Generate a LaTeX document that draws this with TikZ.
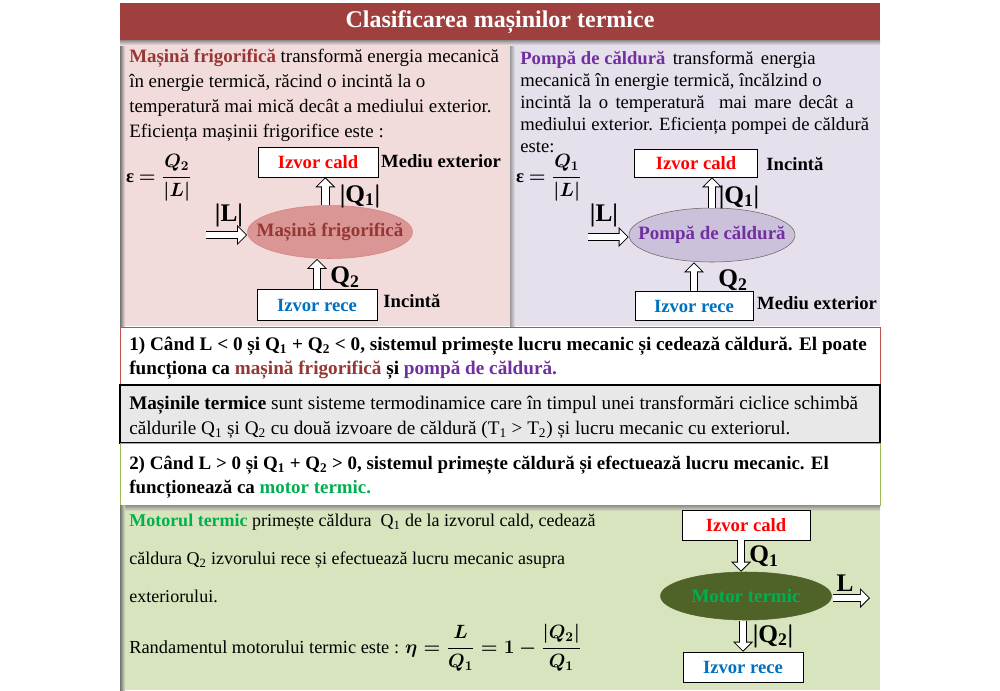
\documentclass[tikz,border=0pt]{standalone}
\usepackage{fontspec}
\setmainfont{Liberation Serif}
\usetikzlibrary{shapes,arrows.meta,positioning}

\definecolor{titlered}{HTML}{A0403E}
\definecolor{pinkbg}{HTML}{F2DCDB}
\definecolor{lavbg}{HTML}{E5E0EC}
\definecolor{greenbg}{HTML}{D7E4BD}
\definecolor{framered}{HTML}{C0504D}
\definecolor{framegreen}{HTML}{9BBB59}
\definecolor{ellpink}{HTML}{D99694}
\definecolor{elllav}{HTML}{CCC1DA}
\definecolor{ellolive}{HTML}{4F6228}
\definecolor{txtdarkred}{HTML}{953735}
\definecolor{txtpurple}{HTML}{7030A0}
\definecolor{txtgreen}{HTML}{00B050}
\definecolor{txtblue}{HTML}{0070C0}

\begin{document}
\begin{tikzpicture}[x=0.75pt, y=-0.75pt, font=\fontsize{13.5}{18}\selectfont]
    % Styles
    \tikzstyle{src_box} = [rectangle, draw, fill=white, inner sep=0pt, font=\fontsize{14}{16}\selectfont\bfseries]
    \tikzstyle{engine} = [ellipse, draw, inner sep=0pt]
    \tikzstyle{engine_text} = [inner sep=0pt, font=\fontsize{14.2}{16}\selectfont\bfseries]
    \tikzstyle{side_label} = [inner sep=0pt, font=\fontsize{14}{16}\selectfont\bfseries]
    \tikzstyle{q_label} = [inner sep=0pt, font=\fontsize{19}{22}\selectfont\bfseries]
    \tikzstyle{panel_text} = [anchor=north west, inner sep=0pt, align=left]
    \tikzstyle{heat_arrow} = [draw=white, line width=5pt, -{Triangle[length=5.7pt, width=11.4pt, line width=0pt]}, shorten >=1.06pt,
        preaction={draw=black, line width=6.5pt, -{Triangle[length=7.5pt, width=15pt, line width=0pt]}, shorten >=0pt}]

    \useasboundingbox (0,0) rectangle (1000,690);

    % Backgrounds
    \fill[pinkbg] (120,40) rectangle (511,326);
    \fill[lavbg] (511,40) rectangle (880,326);
    \shade[left color=black!55, right color=pinkbg] (120,40) rectangle (125,326);
    \shade[left color=black!40, right color=lavbg] (510,40) rectangle (515,326);
    \fill[titlered] (120,3) rectangle (880,40);
    \shade[top color=black!45, bottom color=pinkbg] (120,40) rectangle (511,45);
    \shade[top color=black!45, bottom color=lavbg] (511,40) rectangle (880,45);
    \node[inner sep=0pt, text=white, font=\fontsize{18}{20}\selectfont\bfseries] (title) at (500,22) {Clasificarea mașinilor termice};

    \draw[framered, fill=white] (120,327) rectangle (880,385);
    \draw[black, fill=black!9, line width=1] (120,385) rectangle (880,443);
    \draw[framegreen, fill=white] (120,443) rectangle (880,505);
    \fill[greenbg] (120,505) rectangle (880,690);
    \shade[top color=black!45, bottom color=greenbg] (120,505) rectangle (880,511);
    \shade[left color=black!55, right color=greenbg] (120,505) rectangle (125,690);

    % Masina frigorifica
    \node[panel_text, font=\fontsize{14.2}{18.75}\selectfont] (frig_text) at (129,49)
        {\textcolor{txtdarkred}{\textbf{Mașină frigorifică}} transformă energia mecanică\\
         în energie termică, răcind o incintă la o\\
         temperatură mai mică decât a mediului exterior.\\
         Eficiența mașinii frigorifice este :};
    \node[inner sep=0pt, font=\fontsize{14}{16}\selectfont] (frig_eff) at (159,178) {\textbf{ε} {\boldmath$\displaystyle=\frac{Q_2}{|L|}$}};
    \node[src_box, minimum width=90pt, minimum height=22.5pt, text=red] (frig_cald) at (318,162) {Izvor cald};
    \node[engine, fill=ellpink, draw=framered!70, minimum width=123.75pt, minimum height=39.75pt,
        label={[engine_text, text=txtdarkred]center:Mașină frigorifică}] (frig) at (330,232) {};
    \node[src_box, minimum width=90pt, minimum height=23.25pt, text=txtblue] (frig_rece) at (317,305) {Izvor rece};
    \node[side_label] (frig_ext) at (441,161) {Mediu exterior};
    \node[side_label] (frig_inc) at (412,301) {Incintă};
    \coordinate (frig_in) at (205,235);
    \draw[heat_arrow, shorten <=0.75pt] (frig_in) -- (frig_in -| frig.west);
    \draw[heat_arrow] (frig.100) -- (frig.100 |- frig_cald.south);
    \draw[heat_arrow] (frig_rece.north) -- (frig_rece.north |- frig.south);
    \node[q_label] (frig_l) at (229,215) {|L|};
    \node[q_label] (frig_q1) at (360,196) {|Q\textsubscript{1}|};
    \node[q_label] (frig_q2) at (345,277) {Q\textsubscript{2}};

    % Pompa de caldura
    \node[panel_text, font=\fontsize{14}{16.5}\selectfont] (pump_text) at (520,51)
        {\textcolor{txtpurple}{\textbf{Pompă de căldură}}\hspace{2pt} transformă\hspace{2pt} energia\\
         mecanică în energie termică, încălzind o\\
         \hbox to 250pt{incintă la o temperatură\ \ mai mare decât a}\\
         mediului exterior. Eficiența pompei de căldură\\
         este:};
    \node[inner sep=0pt, font=\fontsize{14}{16}\selectfont] (pump_eff) at (549,178) {\textbf{ε} {\boldmath$\displaystyle=\frac{Q_1}{|L|}$}};
    \node[src_box, minimum width=92.25pt, minimum height=21pt, text=red] (pump_cald) at (696,163) {Izvor cald};
    \node[engine, fill=elllav, draw=black!60, minimum width=124.5pt, minimum height=40.5pt,
        label={[engine_text, text=txtpurple]center:Pompă de căldură}] (pump) at (712,235) {};
    \node[src_box, minimum width=88.5pt, minimum height=21.75pt, text=txtblue] (pump_rece) at (694,306) {Izvor rece};
    \node[side_label] (pump_inc) at (795,164) {Incintă};
    \node[side_label] (pump_ext) at (817,303) {Mediu exterior};
    \coordinate (pump_in) at (587,237);
    \draw[heat_arrow, shorten <=0.75pt] (pump_in) -- (pump_in -| pump.west);
    \draw[heat_arrow] (pump.north) -- (pump.north |- pump_cald.south);
    \draw[heat_arrow] (pump_rece.north) -- (pump_rece.north |- pump.south);
    \node[q_label] (pump_l) at (604,215) {|L|};
    \node[q_label] (pump_q1) at (739,197) {|Q\textsubscript{1}|};
    \node[q_label] (pump_q2) at (733,280) {Q\textsubscript{2}};

    % Cazurile L<0, L>0
    \node[panel_text, font=\fontsize{14.4}{18}\selectfont\bfseries] (case_neg) at (129,337)
        {1) Când L < 0 și Q\textsubscript{1} + Q\textsubscript{2} < 0, sistemul primește lucru mecanic și cedează căldură. El poate\\
         funcționa ca \textcolor{txtdarkred}{mașină frigorifică} și \textcolor{txtpurple}{pompă de căldură.}};
    \node[panel_text, font=\fontsize{14.4}{18.75}\selectfont] (def_text) at (129,396)
        {\textbf{Mașinile termice} sunt sisteme termodinamice care în timpul unei transformări ciclice schimbă\\
         căldurile Q\textsubscript{1} și Q\textsubscript{2} cu două izvoare de căldură (T\textsubscript{1} > T\textsubscript{2}) și lucru mecanic cu exteriorul.};
    \node[panel_text, font=\fontsize{14.2}{18}\selectfont\bfseries] (case_pos) at (129,456)
        {2) Când L > 0 și Q\textsubscript{1} + Q\textsubscript{2} > 0, sistemul primește căldură și efectuează lucru mecanic. El\\
         funcționează ca \textcolor{txtgreen}{motor termic.}};

    % Motor termic
    \node[panel_text, font=\fontsize{13.5}{28.5}\selectfont] (motor_text) at (129,514)
        {\textcolor{txtgreen}{\textbf{Motorul termic}} primește căldura\ \ Q\textsubscript{1} de la izvorul cald, cedează\\
         căldura Q\textsubscript{2} izvorului rece și efectuează lucru mecanic asupra\\
         exteriorului.};
    \node[anchor=base west, inner sep=0pt, font=\fontsize{13.8}{15}\selectfont] (motor_eff) at (129,653)
        {Randamentul motorului termic este : {\fontsize{14}{16}\selectfont\boldmath$\displaystyle\eta=\frac{L}{Q_1}=1$ $\unboldmath-$ $\displaystyle\frac{|Q_2|}{Q_1}$}};
    \node[src_box, minimum width=96pt, minimum height=22.5pt, text=red] (motor_cald) at (746,525) {Izvor cald};
    \node[engine, fill=ellolive, draw=ellolive, minimum width=128.25pt, minimum height=36pt,
        label={[engine_text, text=txtgreen]center:Motor termic}] (motor) at (746,596) {};
    \node[src_box, minimum width=90pt, minimum height=22.5pt, text=txtblue] (motor_rece) at (743,667) {Izvor rece};
    \coordinate (motor_out) at (870,598);
    \draw[heat_arrow] ([xshift=-3.75pt]motor_cald.south) -- ([xshift=-3.75pt]motor_cald.south |- motor.north);
    \draw[heat_arrow, shorten <=0.75pt] (motor_rece.north |- motor.south) -- (motor_rece.north);
    \draw[heat_arrow, shorten <=0.75pt] (motor_out -| motor.east) -- (motor_out);
    \node[q_label] (motor_q1) at (764,556) {Q\textsubscript{1}};
    \node[q_label] (motor_l) at (845,583) {L};
    \node[q_label] (motor_q2) at (773,636) {|Q\textsubscript{2}|};
\end{tikzpicture}
\end{document}
